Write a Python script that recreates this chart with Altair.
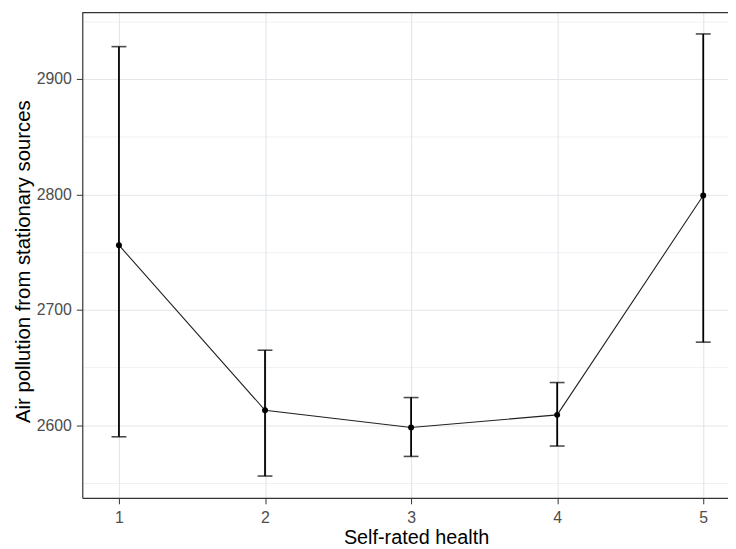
import altair as alt
import pandas as pd

health = [1, 2, 3, 4, 5]
mean_vals = [2756, 2613, 2598, 2609, 2799]
lower_vals = [2590, 2556, 2573, 2582, 2672]
upper_vals = [2928, 2665, 2624, 2637, 2939]

df = pd.DataFrame({"health": health, "mean": mean_vals, "lower": lower_vals, "upper": upper_vals})

W, H = 652, 490
FONT = "Liberation Sans"
x_dom = [0.749, 5.1695]
y_dom = [2537.1, 2957.5]

grid_w = {"condition": {"test": "datum.value % 1 !== 0", "value": 0.6}, "value": 1.1}
grid_wy = {"condition": {"test": "datum.value % 100 !== 0", "value": 0.6}, "value": 1.1}

x_axis = alt.Axis(
    title="Self-rated health", values=[1, 1.5, 2, 2.5, 3, 3.5, 4, 4.5, 5],
    labelExpr="datum.value % 1 === 0 ? datum.label : ''",
    format="d",
    tickOpacity={"condition": {"test": "datum.value % 1 !== 0", "value": 0}, "value": 1},
    gridWidth=grid_w, gridColor="#E2E6EA",
    domainColor="#333333", domainWidth=1.2, tickColor="#333333", tickSize=6, tickWidth=1,
    labelFont=FONT, labelFontSize=16, labelColor="#4D4D4D", labelPadding=6,
    titleFont=FONT, titleFontSize=20, titleFontWeight="normal", titleColor="#000000",
    titleBaseline="alphabetic", titleY=46.5, titleX=337,
)
y_axis = alt.Axis(
    title="Air pollution from stationary sources",
    values=[2550, 2600, 2650, 2700, 2750, 2800, 2850, 2900, 2950],
    labelExpr="datum.value % 100 === 0 ? datum.label : ''",
    format="d",
    tickOpacity={"condition": {"test": "datum.value % 100 !== 0", "value": 0}, "value": 1},
    gridWidth=grid_wy, gridColor="#E2E6EA",
    domainColor="#333333", domainWidth=1.2, tickColor="#333333", tickSize=6, tickWidth=1,
    labelFont=FONT, labelFontSize=16, labelColor="#4D4D4D", labelPadding=5,
    titleFont=FONT, titleFontSize=20.5, titleFontWeight="normal", titleColor="#000000",
    titleBaseline="alphabetic", titleX=-53.5, titleY=251,
)

x_enc = alt.X("health:Q", scale=alt.Scale(domain=x_dom, nice=False, zero=False), axis=x_axis)
x_plain = alt.X("health:Q", scale=alt.Scale(domain=x_dom, nice=False, zero=False))
y_scale = alt.Scale(domain=y_dom, nice=False, zero=False)

base = alt.Chart(df)

line = base.mark_line(color="#222222", strokeWidth=1.1).encode(
    x=x_enc, y=alt.Y("mean:Q", scale=y_scale, axis=y_axis)
)
bars = base.mark_rule(color="#000000", strokeWidth=1.8).encode(
    x=x_plain, y=alt.Y("lower:Q", scale=y_scale), y2="upper:Q"
)
cap_lo = base.mark_tick(color="#000000", thickness=1.6, size=15, orient="horizontal").encode(
    x=x_plain, y=alt.Y("lower:Q", scale=y_scale)
)
cap_hi = base.mark_tick(color="#000000", thickness=1.6, size=15, orient="horizontal").encode(
    x=x_plain, y=alt.Y("upper:Q", scale=y_scale)
)
pts = base.mark_circle(color="#000000", size=36, opacity=1).encode(
    x=x_plain, y=alt.Y("mean:Q", scale=y_scale)
)
top_border = alt.Chart(pd.DataFrame({"k": [0]})).mark_rule(color="#333333", strokeWidth=1.2).encode(
    x=alt.value(0), x2=alt.value(W), y=alt.value(0)
)

chart = alt.layer(line, bars, cap_lo, cap_hi, pts, top_border).properties(
    width=W, height=H,
    autosize=alt.AutoSizeParams(type="none"),
    padding={"left": 75, "top": 2, "right": 0, "bottom": 48},
    background="white",
).configure_view(stroke=None)

chart.save("out.html", embed_options={"renderer": "svg", "actions": False})
